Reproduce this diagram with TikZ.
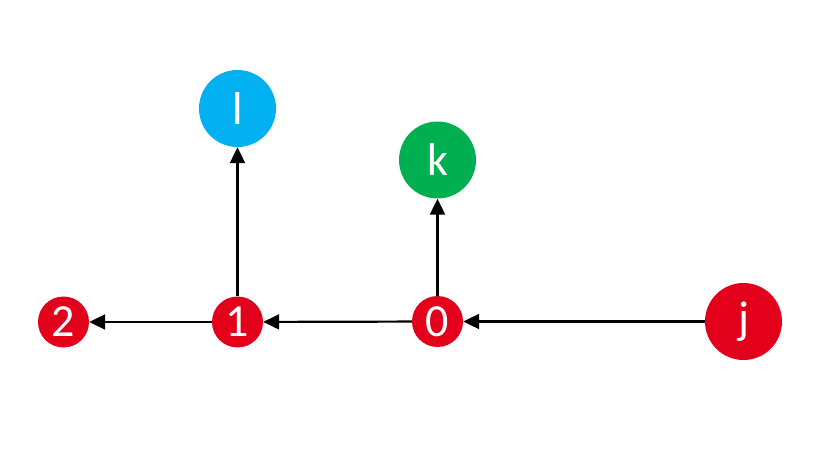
\documentclass[tikz,border=0pt]{standalone}
\usepackage{fontspec}
\setmainfont{Carlito}
\usetikzlibrary{arrows.meta}
\definecolor{nred}{RGB}{227,0,27}
\definecolor{ngreen}{RGB}{0,176,80}
\definecolor{nblue}{RGB}{0,176,240}
\begin{document}
\begin{tikzpicture}[x=1pt,y=-1pt,
  vtx/.style={circle,inner sep=0pt,text=white,font=\fontsize{46}{46}\selectfont},
  small/.style={vtx,minimum size=51pt},
  big/.style={vtx,minimum size=77pt},
  link/.style={line width=2.2pt,-{Triangle[length=16pt,width=15pt]}}]
\fill[white] (0,0) rectangle (830,457);
\useasboundingbox (0,0) rectangle (830,457);
\node[small,fill=nred] (n2) at (63.5,322) {2};
\node[small,fill=nred] (n1) at (237.5,322) {1};
\node[small,fill=nred] (n0) at (437.5,321.5) {0};
\node[big,fill=nred] (j) at (743.5,321.5) {j};
\node[big,fill=nblue] (l) at (237.5,108.5) {l};
\node[big,fill=ngreen] (k) at (437.5,160) {k};
\draw[link] (j) -- (n0);
\draw[link] (n0) -- (n1);
\draw[link] (n1) -- (n2);
\draw[link] (n0) -- (k);
\draw[link] (n1) -- (l);
\end{tikzpicture}
\end{document}
